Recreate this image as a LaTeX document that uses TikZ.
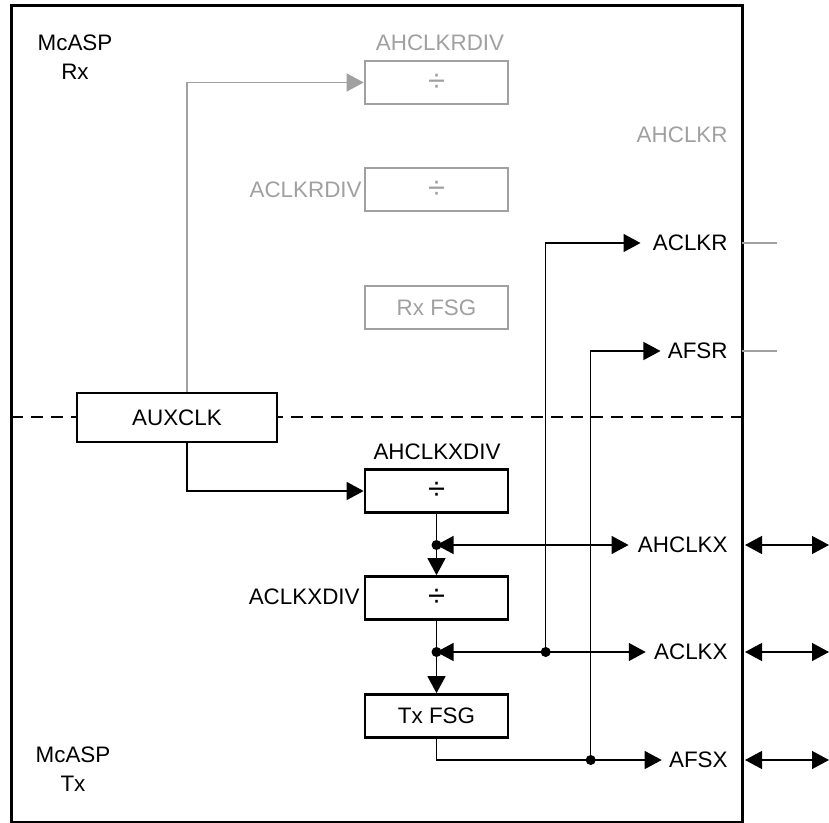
\documentclass[tikz,border=0pt]{standalone}
\usepackage{fontspec}
\setmainfont{Liberation Sans}
\usetikzlibrary{arrows.meta}
\definecolor{rxgray}{RGB}{160,160,160}
\newcommand{\divsym}{{\fontsize{15.5}{18}\selectfont ÷}}
\begin{document}
\begin{tikzpicture}[x=0.5pt,y=-0.5pt,
 font=\fontsize{11.2}{14.5}\selectfont,
 blk/.style={draw, line width=1.35pt, minimum width=71.5pt, minimum height=21.5pt, inner sep=0pt, fill=white},
 gblk/.style={blk, draw=rxgray, text=rxgray},
 lbl/.style={inner sep=0pt},
 glbl/.style={lbl, text=rxgray},
 conn/.style={line width=0.65pt},
 tri/.tip={Triangle[length=8.5pt,width=9pt]},
 jdot/.style={circle, fill, inner sep=0pt, minimum size=5pt},
]
\useasboundingbox (0,0) rectangle (829,823);
% frame
\draw[line width=1.5pt] (11,6) rectangle (742,822);
% dashed separator
\draw[line width=0.55pt, dash pattern=on 6pt off 4pt] (11,417) -- (742,417);

% blocks
\node[blk, minimum width=100pt, minimum height=24.5pt] (aux) at (177,417.5) {AUXCLK};
\node[gblk] (ahrdiv) at (436.5,82.5) {\divsym};
\node[gblk] (ardiv) at (436.5,189.5) {\divsym};
\node[gblk] (rxfsg) at (436.5,307.5) {Rx FSG};
\node[blk] (ahxdiv) at (436.5,491) {\divsym};
\node[blk] (axdiv) at (436.5,598) {\divsym};
\node[blk] (txfsg) at (436.5,716) {Tx FSG};

% block labels
\node[glbl] (ahrdivl) at (440,43) {AHCLKRDIV};
\node[glbl, anchor=east] (ardivl) at (362,190) {ACLKRDIV};
\node[lbl] (ahxdivl) at (437,452) {AHCLKXDIV};
\node[lbl, anchor=east] (axdivl) at (360,597) {ACLKXDIV};
\node[lbl, align=center] (rxl) at (75,57) {McASP\\Rx};
\node[lbl, align=center] (txl) at (73,769) {McASP\\Tx};

% pin labels
\node[glbl, anchor=east] (ahclkr) at (728,135) {AHCLKR};
\node[lbl, anchor=east] (aclkr) at (728,243) {ACLKR};
\node[lbl, anchor=east] (afsr) at (728,351) {AFSR};
\node[lbl, anchor=east] (ahclkx) at (728,545) {AHCLKX};
\node[lbl, anchor=east] (aclkx) at (728,652) {ACLKX};
\node[lbl, anchor=east] (afsx) at (728,760) {AFSX};

% junctions
\node[jdot] (j1) at (436.5,545) {};
\node[jdot] (j2) at (436.5,652) {};
\node[jdot] (d1) at (545.7,652) {};
\node[jdot] (d2) at (590.7,760) {};

% outside coordinates
\coordinate (gr1a) at (742,243); \coordinate (gr1b) at (777,243);
\coordinate (gr2a) at (742,351); \coordinate (gr2b) at (777,351);
\coordinate (o1a) at (745,545); \coordinate (o1b) at (829,545);
\coordinate (o2a) at (745,652); \coordinate (o2b) at (829,652);
\coordinate (o3a) at (745,760); \coordinate (o3b) at (829,760);

% Rx (gray) connectors
\draw[conn, rxgray, -{tri}] ([xshift=5pt]aux.north) |- (ahrdiv.west);
\draw[conn, rxgray] (gr1a) -- (gr1b);
\draw[conn, rxgray] (gr2a) -- (gr2b);

% Tx connectors
\draw[conn, -{tri}] ([xshift=5pt]aux.south) |- (ahxdiv.west);
\draw[conn] (ahxdiv.south) -- (j1.center);
\draw[conn, -{tri}] (j1.center) -- (axdiv.north);
\draw[conn] (axdiv.south) -- (j2.center);
\draw[conn, -{tri}] (j2.center) -- (txfsg.north);
\draw[conn, {tri}-{tri}] (j1.center) -- ([xshift=-4.5pt]ahclkx.west);
\draw[conn, {tri}-{tri}] (j2.center) -- ([xshift=-4pt]aclkx.west);
\draw[conn, -{tri}] (txfsg.south) |- ([xshift=-3.5pt]afsx.west);
\draw[conn, -{tri}] (d1.center) |- ([xshift=-6pt]aclkr.west);
\draw[conn, -{tri}] (d2.center) |- ([xshift=-3.5pt]afsr.west);

% external pins
\draw[conn, {tri}-{tri}] (o1a) -- (o1b);
\draw[conn, {tri}-{tri}] (o2a) -- (o2b);
\draw[conn, {tri}-{tri}] (o3a) -- (o3b);
\end{tikzpicture}
\end{document}
